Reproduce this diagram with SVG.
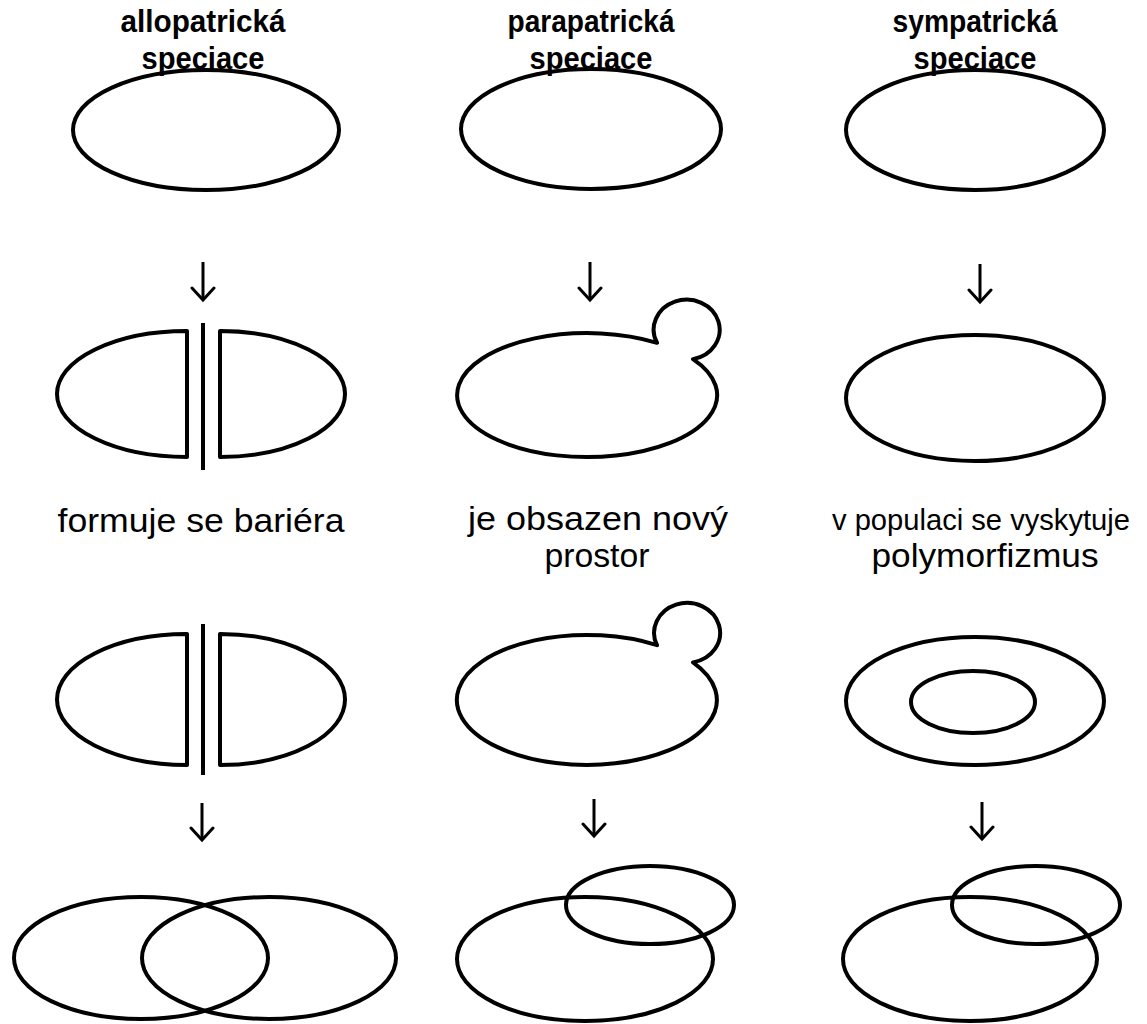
<svg xmlns="http://www.w3.org/2000/svg" width="1147" height="1024" viewBox="0 0 1147 1024">
<style>
.s{fill:none;stroke:#000;stroke-width:4;stroke-linejoin:round}
.h{font-family:"Liberation Sans",Arial,sans-serif;font-weight:bold;font-size:31px;text-anchor:middle;fill:#000}
.t{font-family:"Liberation Sans",Arial,sans-serif;font-size:33px;text-anchor:middle;fill:#000}
.c{stroke:#000;stroke-width:3;fill:none}
</style>
<defs>
<marker id="ah" markerUnits="userSpaceOnUse" viewBox="-14 -13 17 26" refX="0" refY="0" markerWidth="17" markerHeight="26" orient="auto">
<path d="M-12,-11 L0,0 L-12,11" fill="none" stroke="#000" stroke-width="3" stroke-linecap="round"/>
</marker>
</defs>
<rect width="1147" height="1024" fill="#fff"/>
<g id="headings">
<text class="h" x="203" y="32" textLength="165" lengthAdjust="spacingAndGlyphs">allopatrická</text>
<text class="h" x="203" y="69" textLength="123" lengthAdjust="spacingAndGlyphs">speciace</text>
<text class="h" x="591" y="32" textLength="167" lengthAdjust="spacingAndGlyphs">parapatrická</text>
<text class="h" x="591" y="69" textLength="123" lengthAdjust="spacingAndGlyphs">speciace</text>
<text class="h" x="975" y="32" textLength="165" lengthAdjust="spacingAndGlyphs">sympatrická</text>
<text class="h" x="975" y="69" textLength="123" lengthAdjust="spacingAndGlyphs">speciace</text>
</g>
<g id="allo-1"><ellipse class="s" cx="206" cy="130" rx="133" ry="60"/></g>
<g id="para-1"><ellipse class="s" cx="591" cy="129" rx="130" ry="60"/></g>
<g id="sym-1"><ellipse class="s" cx="975" cy="130" rx="129" ry="60"/></g>
<g id="allo-2">
<path class="s" d="M187,331 A130,63 0 0 0 187,457 Z"/>
<path class="s" d="M220,331 A125,63 0 0 1 220,457 Z"/>
<line class="s" x1="203" y1="323" x2="203" y2="470"/>
</g>
<g id="para-2">
<path class="s" d="M657,342.8 A130,62 0 1 0 693,359.1 A33,30 0 1 0 657,342.8 Z"/>
</g>
<g id="sym-2"><ellipse class="s" cx="975" cy="398" rx="129" ry="63"/></g>
<g id="labels">
<text class="t" x="201" y="532" textLength="287" lengthAdjust="spacingAndGlyphs">formuje se bariéra</text>
<text class="t" x="598" y="530" textLength="260" lengthAdjust="spacingAndGlyphs">je obsazen nový</text>
<text class="t" x="597" y="567" textLength="105" lengthAdjust="spacingAndGlyphs">prostor</text>
<text class="t" x="981" y="530" textLength="298" lengthAdjust="spacingAndGlyphs" style="font-size:29px">v populaci se vyskytuje</text>
<text class="t" x="985" y="567" textLength="227" lengthAdjust="spacingAndGlyphs">polymorfizmus</text>
</g>
<g id="allo-3">
<path class="s" d="M187,634 A130,65.5 0 0 0 187,765 Z"/>
<path class="s" d="M220,634 A125,65.5 0 0 1 220,765 Z"/>
<line class="s" x1="203" y1="624" x2="203" y2="775"/>
</g>
<g id="para-3">
<path class="s" d="M657,645.2 A130,65 0 1 0 693,662.4 A33,30 0 1 0 657,645.2 Z"/>
</g>
<g id="sym-3">
<ellipse class="s" cx="975" cy="701" rx="129" ry="64"/>
<ellipse class="s" cx="973" cy="702" rx="62" ry="31"/>
</g>
<g id="allo-4">
<ellipse class="s" cx="141" cy="958" rx="127" ry="61"/>
<ellipse class="s" cx="269" cy="958" rx="127" ry="61"/>
</g>
<g id="para-4">
<ellipse class="s" cx="585" cy="959" rx="128" ry="62"/>
<ellipse class="s" cx="650" cy="905" rx="84" ry="39"/>
</g>
<g id="sym-4">
<ellipse class="s" cx="970" cy="959" rx="127" ry="62"/>
<ellipse class="s" cx="1036" cy="905" rx="84" ry="39"/>
</g>
<g id="connectors">
<line class="c" x1="203" y1="262" x2="203" y2="300" marker-end="url(#ah)"/>
<line class="c" x1="590" y1="262" x2="590" y2="300" marker-end="url(#ah)"/>
<line class="c" x1="980" y1="264" x2="980" y2="302" marker-end="url(#ah)"/>
<line class="c" x1="202" y1="803" x2="202" y2="840" marker-end="url(#ah)"/>
<line class="c" x1="594" y1="799" x2="594" y2="836" marker-end="url(#ah)"/>
<line class="c" x1="982" y1="802" x2="982" y2="839" marker-end="url(#ah)"/>
</g>
</svg>
